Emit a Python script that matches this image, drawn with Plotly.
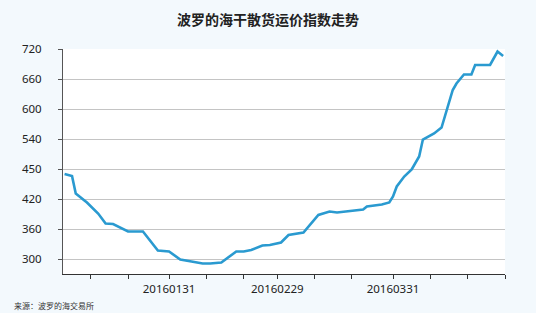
import plotly.graph_objects as go

dates = ["2016-01-03", "2016-01-05", "2016-01-06", "2016-01-07", "2016-01-09", "2016-01-12",
         "2016-01-14", "2016-01-16", "2016-01-20", "2016-01-24", "2016-01-26", "2016-01-28",
         "2016-01-31", "2016-02-03", "2016-02-06", "2016-02-09", "2016-02-11", "2016-02-14",
         "2016-02-18", "2016-02-20", "2016-02-22", "2016-02-25", "2016-02-27", "2016-03-01",
         "2016-03-03", "2016-03-07", "2016-03-11", "2016-03-14", "2016-03-16", "2016-03-20",
         "2016-03-23", "2016-03-24", "2016-03-28", "2016-03-30", "2016-03-31", "2016-04-01",
         "2016-04-03", "2016-04-05", "2016-04-07", "2016-04-08", "2016-04-11", "2016-04-13",
         "2016-04-16", "2016-04-17", "2016-04-19", "2016-04-21", "2016-04-22", "2016-04-26",
         "2016-04-28", "2016-04-29 12:00"]
bdi = [470, 466, 431, 425, 413, 391,
       371, 370, 355, 355, 335, 317,
       315, 299, 295, 291, 291, 293,
       315, 315, 318, 327, 328, 333,
       348, 353, 388, 395, 393, 396,
       399, 405, 409, 413, 425, 445,
       465, 479, 505, 539, 551, 563,
       638, 651, 669, 669, 688, 688,
       715, 706]

ytick_vals = [300, 360, 420, 480, 540, 600, 660, 720]
ytick_text = ["300", "360", "420", "450", "540", "600", "660", "720"]

xtick_vals = ["2016-01-10", "2016-01-20", "2016-01-31", "2016-02-10", "2016-02-20", "2016-02-29",
              "2016-03-10", "2016-03-20", "2016-03-31", "2016-04-10", "2016-04-20", "2016-04-30"]
xtick_text = ["", "", "20160131", "", "", "20160229", "", "", "20160331", "", "", ""]

title_text = "波罗的海干散货运价指数走势"
source_text = "来源：波罗的海交易所"

fig = go.Figure()
fig.add_trace(go.Scatter(x=dates, y=bdi, mode="lines",
                         line=dict(color="#2A9AD0", width=2.6), showlegend=False))

fig.update_layout(
    width=536, height=313,
    margin=dict(l=63, r=31, t=49, b=39),
    paper_bgcolor="#F3F9FD",
    plot_bgcolor="#FFFFFF",
    title=dict(text=title_text, x=0.5, xanchor="center", y=0.935, yanchor="middle",
               font=dict(family="Noto Sans CJK SC", size=14, color="#222222", weight="bold")),
    font=dict(family="Noto Sans", size=11, color="#222222"),
)
fig.update_xaxes(
    type="date",
    range=["2016-01-02 14:00", "2016-04-30"],
    tickmode="array", tickvals=xtick_vals, ticktext=xtick_text,
    showgrid=False, showline=True, linecolor="#333333", linewidth=1,
    ticks="outside", ticklen=4, tickcolor="#333333",
    tickfont=dict(size=11.5, color="#222222"),
    zeroline=False,
)
fig.update_yaxes(
    range=[270, 720],
    tickmode="array", tickvals=ytick_vals, ticktext=ytick_text,
    showgrid=True, gridcolor="#C4C4C4", gridwidth=1,
    showline=True, linecolor="#555555", linewidth=1,
    ticks="outside", ticklen=4, tickcolor="#555555",
    ticklabelstandoff=14,
    tickfont=dict(size=11.5, color="#222222"),
    zeroline=False,
)
fig.add_annotation(text=source_text, xref="paper", yref="paper", x=-0.1, y=-0.105,
                   xanchor="left", yanchor="top", showarrow=False,
                   font=dict(family="Noto Sans CJK SC", size=8, color="#333333"),
                   xshift=-(63 - 12) + 44)

fig.write_html("out.html")
